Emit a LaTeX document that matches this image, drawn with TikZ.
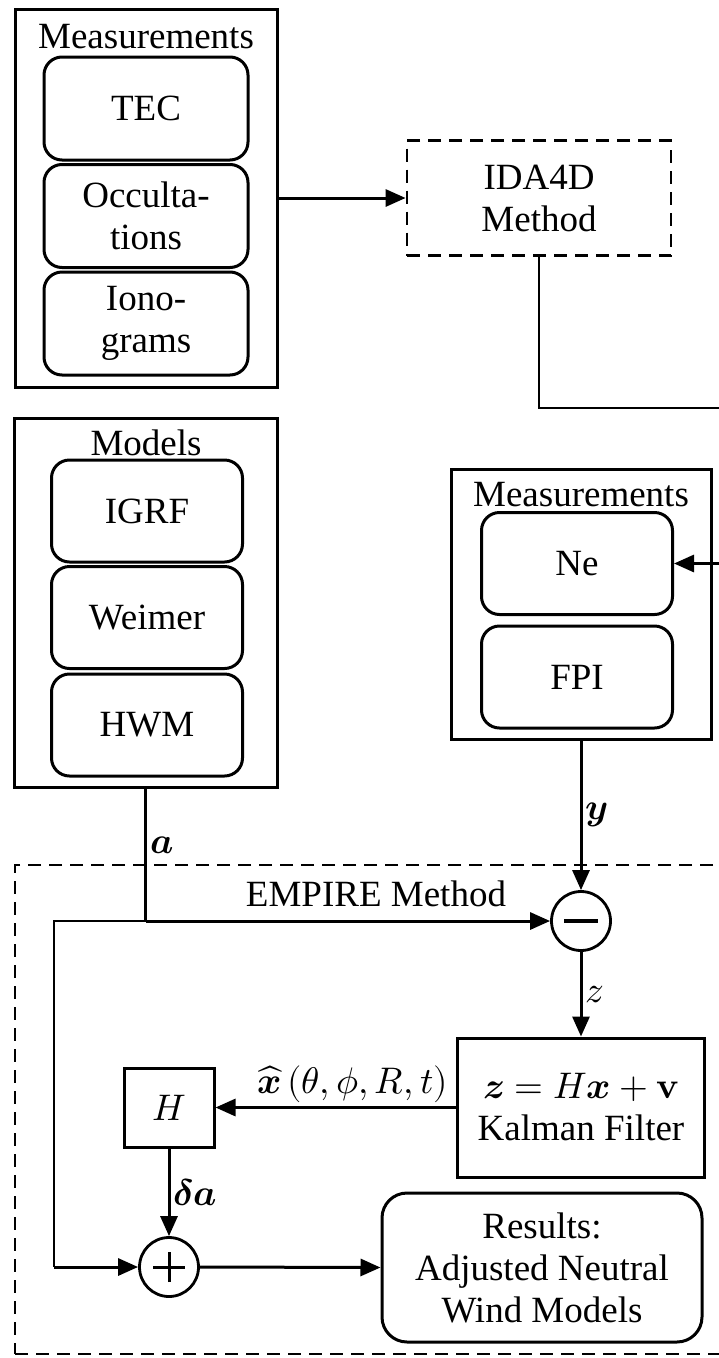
\documentclass[tikz,border=0pt]{standalone}
\usepackage{fontspec}
\setmainfont{Liberation Serif}
\usepackage{unicode-math}
\usetikzlibrary{arrows.meta}

\begin{document}
\begin{tikzpicture}[x=1pt,y=-1pt,
    font=\fontsize{37}{42}\selectfont,
    outerbox/.style={draw,line width=3pt,inner sep=0pt,align=center},
    itembox/.style={draw,line width=3pt,rounded corners=18pt,inner sep=0pt,
        minimum width=191pt,minimum height=102pt,align=center},
    dashbox/.style={draw,line width=2.8pt,dash pattern=on 13pt off 8pt,inner sep=0pt,align=center},
    sumnode/.style={draw,circle,line width=2.8pt,minimum size=59pt,inner sep=0pt},
    arr/.style={line width=3pt,-{Triangle[length=20pt,width=17pt]}},
    thinline/.style={line width=1.4pt}]
    \useasboundingbox (0,0) rectangle (719,1358);
    \clip (0,0) rectangle (719,1358);

    % Ionospheric measurements
    \node[outerbox,minimum width=262pt,minimum height=378pt] (meas) at (146,198) {};
    \node (measlbl) at (146,37) {Measurements};
    \node[itembox,minimum width=204pt,minimum height=103pt] (tec) at (146,108.5) {TEC};
    \node[itembox,minimum width=204pt,minimum height=103pt] (occ) at (146,216) {Occulta-\\tions};
    \node[itembox,minimum width=204pt,minimum height=103pt] (iono) at (146,323.5) {Iono-\\grams};

    % IDA4D
    \node[dashbox,minimum width=264pt,minimum height=115pt] (ida) at (539,198) {IDA4D\\Method};
    \coordinate (e1) at (745,408);
    \coordinate (e2) at (745,563.5);

    % Models
    \node[outerbox,minimum width=263pt,minimum height=369pt] (models) at (145.5,602.5) {};
    \node (modlbl) at (146,443) {Models};
    \node[itembox] (igrf) at (147,511) {IGRF};
    \node[itembox] (weimer) at (147,617.5) {Weimer};
    \node[itembox] (hwm) at (147,725) {HWM};

    % Ne and FPI measurements
    \node[outerbox,minimum width=260pt,minimum height=270pt] (meas2) at (581,604) {};
    \node (meas2lbl) at (581,495) {Measurements};
    \node[itembox] (ne) at (577,563.5) {Ne};
    \node[itembox] (fpi) at (577,677) {FPI};

    % EMPIRE
    \node[dashbox,minimum width=745pt,minimum height=489pt] (empire) at (387.5,1109.5) {};
    \node (emplbl) at (376,894) {EMPIRE Method};
    \node[sumnode] (minus) at (581,921) {};
    \draw[line width=4pt] ([xshift=-17pt]minus.center) -- ([xshift=17pt]minus.center);
    \node[outerbox,minimum width=247pt,minimum height=139pt] (kal) at (581,1107.5)
        {$\symbfit{z}=H\symbfit{x}+\symbf{v}$\\Kalman Filter};
    \node[outerbox,minimum width=90pt,minimum height=79pt] (hbox) at (169,1107.5) {$H$};
    \node[sumnode] (plus) at (169,1267) {};
    \draw[line width=3pt] ([xshift=-16pt]plus.center) -- ([xshift=16pt]plus.center);
    \draw[line width=3pt] ([yshift=-15pt]plus.center) -- ([yshift=15pt]plus.center);
    \node[outerbox,rounded corners=25pt,minimum width=320pt,minimum height=149pt] (res) at (542,1267.5)
        {Results:\\Adjusted Neutral\\Wind Models};
    \coordinate (aj) at (145.5,921);
    \coordinate (al) at (54,921);
    \coordinate (ab) at (54,1267);

    % Connectors
    \draw[arr] (meas.east) -- (ida.west);
    \draw[thinline] (ida.south) |- (e1) -- (e2);
    \draw[arr] (e2) -- (ne.east);
    \draw[arr] (meas2.south) -- node[right] {$\symbfit{y}$} (minus.north);
    \draw[line width=3pt] (models.south) -- node[pos=0.43,right] {$\symbfit{a}$} (aj);
    \draw[arr] (aj) -- (minus.west);
    \draw[thinline] (aj) -- (al) -- (ab);
    \draw[arr] (ab) -- (plus.west);
    \draw[arr] (minus.south) -- node[right] {$z$} (kal.north);
    \draw[arr] (kal.west) -- node[pos=0.43,above] {$\widehat{\symbfit{x}}\,(\theta,\phi,R,t)$} (hbox.east);
    \draw[arr] (hbox.south) -- node[right] {$\symbfit{\delta a}$} (plus.north);
    \draw[arr] (plus.east) -- (res.west);
\end{tikzpicture}
\end{document}
